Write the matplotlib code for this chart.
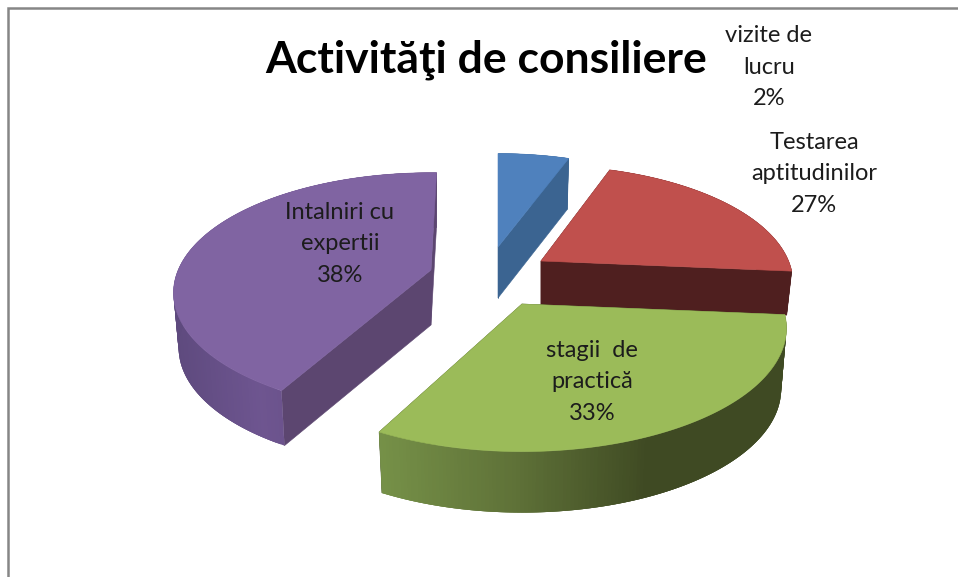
import numpy as np
import matplotlib
matplotlib.use("Agg")
import matplotlib.pyplot as plt
from matplotlib.colors import LinearSegmentedColormap

title = "Activităţi de consiliere"
slice_names = ["vizite de\nlucru", "Testarea\naptitudinilor", "stagii  de\npractică", "Intalniri cu\nexpertii"]
label_percents = [2, 27, 33, 38]
# visible size of each slice (share of the circle)
slice_shares = [5.3, 21.1, 31.4, 42.2]

top_colors = ["#4f81bd", "#c0504d", "#9bbb59", "#8064a2"]
wall_colors = ["#3b6491", "#4f1f1f", "#3f4a23", "#5c4670"]
rim_ramps = [
    ["#3b6491", "#3b6491"],
    ["#4f1f1f", "#4f1f1f"],
    ["#769148", "#5f7238", "#3f4a23", "#3f4a23"],
    ["#5e4a7e", "#6e5590", "#664e84", "#5c4670"],
]
# geometry of the exploded slices, in pixels
tips = [(498, 247), (541, 261), (522, 304), (431, 270)]
radii = [0.92, 0.945, 0.99, 0.965]
trims = [(0, 1), (0, 0), (0, -1), (1.5, 1.5)]
depths = [51, 44, 61, 55]
label_pos = [(769, 67), (814, 174), (592, 382), (340, 244)]
draw_order = [0, 1, 3, 2]

R = 262
C = 120
K = 0.197
BOTTOM_SHRINK = 0.98


def project(i, angle, r, drop=0):
    # angle in degrees, clockwise from the back of the pie
    a = np.radians(angle)
    x = r * np.sin(a)
    v = r * np.cos(a)
    px = R * x / (1 + K * v)
    py = -C * v / (1 + K * v)
    if drop:
        px = px * BOTTOM_SHRINK
    return tips[i][0] + px, tips[i][1] + py + drop


fig = plt.figure(figsize=(9.58, 5.77), dpi=100)
ax = fig.add_axes([0, 0, 1, 1])
ax.set_xlim(0, 958)
ax.set_ylim(577, 0)
ax.axis("off")

# frame of the pasted chart (left and top only, the rest is cut off)
ax.plot([8, 8, 958], [577, 7.5, 7.5], color="#868686", lw=1.8, solid_joinstyle="miter")

bounds = np.cumsum([0] + slice_shares) * 3.6

for i in draw_order:
    start, end = bounds[i] + trims[i][0], bounds[i + 1] + trims[i][1]
    r = radii[i]
    d = depths[i]
    tx, ty = tips[i]
    angles = np.linspace(start, end, 160)
    xs, ys = project(i, angles, r)
    xb, yb = project(i, angles, r, d)
    cmap = LinearSegmentedColormap.from_list("rim", rim_ramps[i])

    # the two cut faces
    for k in (0, -1):
        ax.fill([tx, xs[k], xb[k], tx],
                [ty, ys[k], yb[k], ty + d],
                facecolor=wall_colors[i], edgecolor=wall_colors[i], lw=0.4)

    # rim, in overlapping strips for the gradient
    xmin, xmax = xs.min(), xs.max()
    for j in range(len(angles) - 1):
        t = (xs[j] - xmin) / (xmax - xmin)
        n = min(j + 3, len(angles) - 1)
        ax.fill([xs[j], xs[n], xb[n], xb[j]],
                [ys[j], ys[n], yb[n], yb[j]],
                facecolor=cmap(t), lw=0)

    ax.fill(np.r_[tx, xs], np.r_[ty, ys], facecolor=top_colors[i],
            edgecolor=top_colors[i], lw=0.4)

for i in range(4):
    ax.text(label_pos[i][0], label_pos[i][1], f"{slice_names[i]}\n{label_percents[i]}%",
            ha="center", va="center", ma="center", fontsize=17, family="Lato",
            color="#1c1c1c", linespacing=1.64, zorder=5)

ax.text(486, 60, title, ha="center", va="center", fontsize=32, family="Lato",
        fontweight="bold", color="black", zorder=5)

fig.savefig("out.png", dpi=100, facecolor="white")
